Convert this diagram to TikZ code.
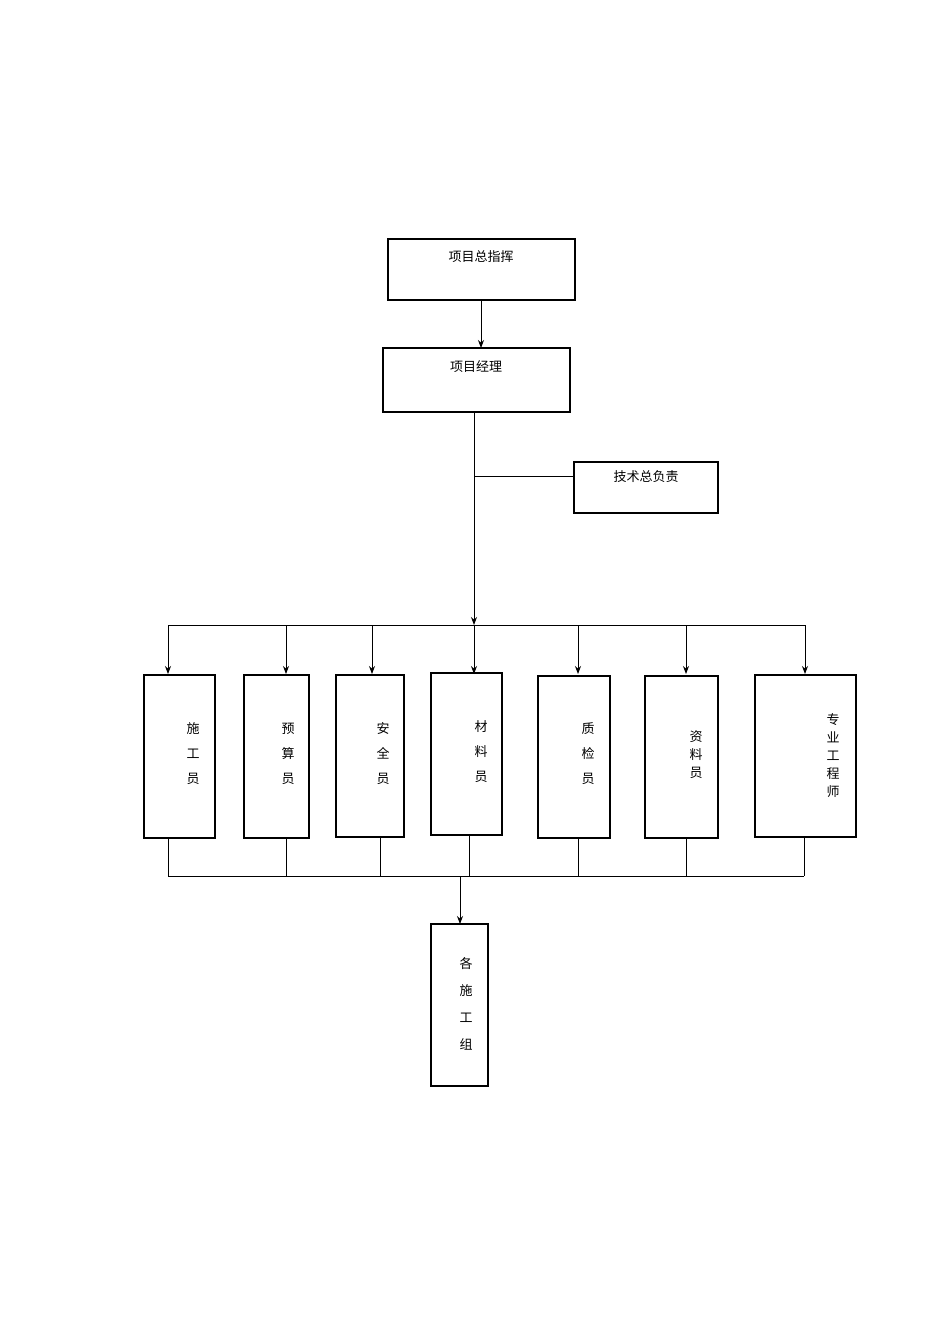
\documentclass[tikz,border=0pt]{standalone}
\usepackage{fontspec}
\newfontfamily\cjk{Noto Sans CJK SC}
\usetikzlibrary{arrows.meta}
\begin{document}
\begin{tikzpicture}[x=1pt,y=-1pt,
  box/.style={draw,line width=1.1pt,inner sep=0pt},
  lbl/.style={font=\cjk\fontsize{13}{16}\selectfont,inner sep=0pt,align=center},
  conn/.style={line width=0.8pt},
  arr/.style={conn,-{Stealth[length=8pt,width=6pt]}}]
\useasboundingbox (0,0) rectangle (950,1344);
% boxes
\draw[box] (388,239) rectangle (575,300) coordinate (b0);
\node[lbl] (t0) at (481,257) {项目总指挥};
\draw[box] (383,348) rectangle (570,412);
\node[lbl] (t1) at (476,367) {项目经理};
\draw[box] (574,462) rectangle (718,513);
\node[lbl] (t2) at (646,477) {技术总负责};
\coordinate (m1) at (481,300); \coordinate (m2) at (481,348);
\draw[arr] (m1) -- (m2);
\coordinate (v0) at (474,412); \coordinate (v1) at (474,625);
\coordinate (br) at (474,476); \coordinate (tj) at (574,476);
\draw[arr] (v0) -- (v1);
\draw[conn] (br) -- (tj);
\coordinate (busL) at (168,625); \coordinate (busR) at (805,625);
\draw[conn] (busL) -- (busR);
\foreach \x in {168,286,372,474,578,686,805}{
  \draw[arr] (\x,625) -- (\x,674);}
\draw[box] (144,675) rectangle (215,838);
\draw[box] (244,675) rectangle (309,838);
\draw[box] (336,675) rectangle (404,837);
\draw[box] (431,673) rectangle (502,835);
\draw[box] (538,676) rectangle (610,838);
\draw[box] (645,676) rectangle (718,838);
\draw[box] (755,675) rectangle (856,837);
\node[lbl] (s1) at (193,754) {施\\[9pt]工\\[9pt]员};
\node[lbl] (s2) at (288,754) {预\\[9pt]算\\[9pt]员};
\node[lbl] (s3) at (383,754) {安\\[9pt]全\\[9pt]员};
\node[lbl] (s4) at (481,752) {材\\[9pt]料\\[9pt]员};
\node[lbl] (s5) at (588,754) {质\\[9pt]检\\[9pt]员};
\node[lbl] (s6) at (696,755) {资\\[2pt]料\\[2pt]员};
\node[lbl] (s7) at (833,756) {专\\[2pt]业\\[2pt]工\\[2pt]程\\[2pt]师};
\foreach \x/\y in {168/838,286/838,380/837,469/835,578/838,686/838,804/837}{
  \draw[conn] (\x,\y) -- (\x,876);}
\coordinate (bL) at (168,876); \coordinate (bR) at (804,876);
\draw[conn] (bL) -- (bR);
\coordinate (g0) at (460,876); \coordinate (g1) at (460,924);
\draw[arr] (g0) -- (g1);
\draw[box] (431,924) rectangle (488,1086);
\node[lbl] (s8) at (466,1004) {各\\[11pt]施\\[11pt]工\\[11pt]组};
\end{tikzpicture}
\end{document}
